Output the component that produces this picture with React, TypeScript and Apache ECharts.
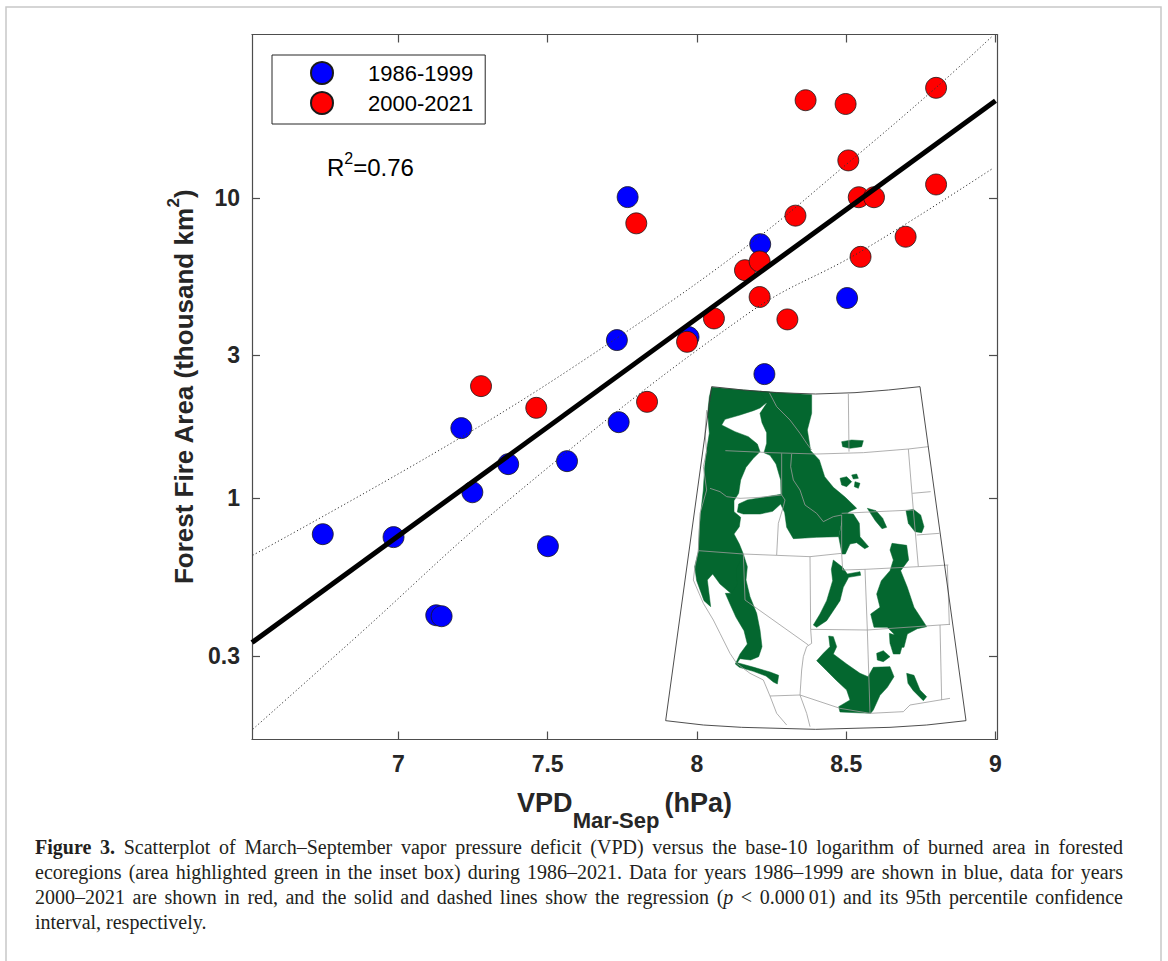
import React, { useEffect, useRef } from 'react';
import * as echarts from 'echarts';

// ---------------- data ----------------
const xTicks = [7, 7.5, 8, 8.5, 9];
const yTicks = [0.3, 1, 3, 10];
const seriesNames = ['1986-1999', '2000-2021'];

const blueVPD = [6.747, 6.984, 7.127, 7.145, 7.211, 7.248, 7.368, 7.501, 7.565, 7.732, 7.738, 7.768, 7.972, 8.212, 8.226, 8.503];
const blueArea = [0.761, 0.744, 0.409, 0.406, 1.714, 1.049, 1.301, 0.694, 1.331, 3.363, 1.794, 10.05, 3.441, 7.01, 2.592, 4.64];

const redVPD = [7.277, 7.462, 7.797, 7.833, 7.967, 8.057, 8.161, 8.21, 8.21, 8.303, 8.33, 8.364, 8.498, 8.507, 8.542, 8.548, 8.593, 8.699, 8.801, 8.801];
const redArea = [2.364, 2.002, 8.22, 2.096, 3.319, 3.97, 5.743, 6.14, 4.677, 3.94, 8.72, 21.1, 20.5, 13.31, 10.04, 6.36, 10.04, 7.42, 23.2, 11.07];

const fitVPD = [6.51, 9.0];
const fitArea = [0.332, 21.0];

const upperVPD = [6.513, 7.211, 7.732, 8.172, 8.506, 8.8, 8.99];
const upperArea = [0.648, 1.599, 3.415, 6.96, 13.05, 23.2, 34.5];

const lowerVPD = [6.513, 6.847, 7.381, 8.172, 8.546, 8.993];
const lowerArea = [0.171, 0.338, 1.01, 4.124, 6.6, 12.56];

const captionLines = [
  '*Figure* *3.* Scatterplot of March–September vapor pressure deficit (VPD) versus the base-10 logarithm of burned area in forested',
  'ecoregions (area highlighted green in the inset box) during 1986–2021. Data for years 1986–1999 are shown in blue, data for years',
  '2000–2021 are shown in red, and the solid and dashed lines show the regression (_p_ < 0.000\u200901) and its 95th percentile confidence',
  'interval, respectively.',
];

// ---------------- inset map (decorative drawing, local coords) ----------------
const mapOutline = [[155, 20], [250, 30], [350, 38], [467, 42], [585, 38], [685, 30], [780, 20], [918, 1022], [800, 1035], [690, 1042], [467, 1048], [245, 1042], [130, 1035], [17, 1022]];

const greenAreas = [
  // coast, Cascades and BC coast mountains
  [[155, 22], [250, 30], [330, 36], [322, 66], [300, 84], [280, 92], [240, 105], [195, 118], [185, 135], [225, 155], [265, 170], [292, 192], [300, 215], [280, 235], [258, 262], [242, 300], [236, 340], [222, 362], [222, 395], [242, 412], [238, 440], [222, 462], [238, 492], [250, 522], [245, 570], [258, 640], [248, 660], [215, 642], [180, 612], [158, 582], [142, 600], [152, 680], [132, 662], [110, 602], [104, 560], [115, 515], [118, 450], [122, 400], [130, 330], [134, 262], [138, 222], [148, 160], [143, 100], [148, 50]],
  // northern Rockies
  [[300, 34], [455, 44], [455, 100], [442, 150], [452, 212], [478, 240], [494, 290], [520, 322], [556, 352], [590, 385], [566, 396], [546, 420], [536, 470], [470, 472], [400, 476], [380, 442], [374, 398], [362, 372], [338, 394], [300, 402], [250, 402], [232, 396], [236, 372], [262, 360], [302, 353], [345, 346], [363, 343], [362, 300], [348, 252], [330, 226], [312, 218], [320, 190], [320, 158], [306, 128], [300, 100], [320, 70]],
  // Sierra Nevada and Transverse ranges
  [[250, 522], [262, 560], [258, 600], [270, 650], [290, 700], [300, 750], [306, 800], [296, 830], [272, 840], [240, 836], [232, 848], [282, 862], [330, 876], [356, 886], [352, 912], [340, 906], [318, 888], [280, 874], [238, 862], [226, 852], [240, 822], [262, 792], [252, 752], [228, 712], [210, 672], [196, 640], [215, 640], [232, 612], [228, 570]],
  [[546, 400], [580, 402], [598, 430], [600, 470], [626, 500], [614, 506], [590, 488], [570, 492], [556, 522], [546, 522], [536, 470], [546, 430]],
  [[622, 385], [648, 392], [668, 415], [680, 442], [666, 446], [646, 422]],
  [[520, 540], [548, 562], [562, 582], [600, 575], [602, 586], [566, 592], [550, 622], [540, 662], [520, 692], [500, 722], [470, 742], [460, 735], [480, 702], [500, 662], [518, 602], [514, 568]],
  [[696, 490], [740, 496], [746, 540], [722, 572], [742, 622], [762, 682], [800, 740], [772, 746], [742, 762], [732, 802], [712, 802], [702, 762], [682, 742], [642, 742], [632, 702], [660, 682], [650, 642], [664, 602], [690, 572], [700, 540], [690, 510]],
  [[506, 768], [520, 770], [530, 800], [520, 822], [560, 852], [600, 880], [624, 890], [640, 862], [690, 860], [702, 890], [682, 922], [660, 946], [640, 990], [632, 1000], [540, 996], [536, 980], [570, 960], [560, 930], [530, 902], [500, 872], [470, 842], [490, 820], [510, 800]],
  [[740, 880], [762, 886], [780, 930], [800, 950], [790, 962], [760, 932], [744, 910]],
  [[688, 760], [720, 770], [726, 800], [720, 822], [700, 822], [690, 790]],
  [[650, 820], [670, 812], [690, 830], [670, 845], [652, 840]],
  [[545, 185], [575, 180], [610, 182], [605, 200], [570, 205], [548, 200]],
  [[540, 295], [560, 290], [575, 305], [560, 320], [545, 315]],
  [[585, 305], [600, 310], [595, 325], [583, 320]],
  [[575, 285], [590, 282], [595, 295], [580, 297]],
  [[738, 392], [760, 388], [782, 405], [792, 440], [785, 458], [765, 455], [745, 430]],
];

const borderLines = [
  [[196, 212], [330, 218], [470, 222], [610, 218], [745, 207], [805, 200]],
  [[328, 38], [350, 80], [390, 120], [420, 160], [440, 190], [455, 210]],
  [[565, 42], [567, 215]],
  [[365, 220], [365, 345]],
  [[395, 222], [392, 260], [400, 300], [420, 330], [435, 375], [470, 400], [490, 425], [520, 410], [545, 405]],
  [[150, 325], [180, 335], [200, 350], [240, 355], [300, 352], [365, 345], [375, 360], [370, 380], [355, 430], [350, 525]],
  [[115, 512], [250, 522], [450, 530], [545, 520]],
  [[545, 405], [545, 520], [548, 570], [615, 568], [775, 560], [865, 555]],
  [[545, 400], [650, 395], [760, 390]],
  [[745, 207], [760, 390], [775, 560]],
  [[757, 340], [812, 335]],
  [[770, 465], [838, 460]],
  [[615, 568], [622, 750]],
  [[450, 530], [452, 748]],
  [[452, 748], [622, 750], [840, 735], [870, 733]],
  [[862, 556], [868, 735]],
  [[840, 735], [845, 960]],
  [[622, 750], [630, 1000]],
  [[250, 522], [255, 660], [445, 795]],
  [[452, 748], [455, 790], [440, 800], [430, 830], [425, 870], [420, 945]],
  [[330, 948], [420, 945], [540, 985], [630, 1000], [730, 995], [750, 975], [870, 955]],
  [[140, 90], [135, 160], [140, 215], [130, 260], [140, 330], [120, 400], [115, 512], [105, 560], [100, 600], [130, 670], [160, 720], [180, 760], [210, 820], [230, 850], [270, 880], [310, 900], [330, 948]],
  [[330, 948], [350, 1000], [380, 1035]],
  [[420, 945], [440, 1000], [450, 1040]],
];

const SANS = '"Liberation Sans", Arial, Helvetica, sans-serif';
const SERIF = '"Liberation Serif", "Times New Roman", serif';
const AX = '#4d4d4d';
const TXT = '#262626';

function mapPts(pts: number[][]) {
  return pts.map(([x, y]) => [660 + x / 3, 380 + y / 3]);
}

function buildCaption(): any[] {
  const ctx = document.createElement('canvas').getContext('2d') as CanvasRenderingContext2D;
  const size = 20;
  const fontFor = (k: string) => `${k === 'i' ? 'italic ' : ''}${k === 'b' ? 'bold ' : ''}${size}px "Liberation Serif"`;
  const measure = (t: string, k: string) => {
    ctx.font = fontFor(k);
    return ctx.measureText(t).width;
  };
  const x0 = 35;
  const x1 = 1123;
  const ys = [847, 872, 897, 921.5];
  const out: any[] = [];
  captionLines.forEach((line, li) => {
    const words = line.split(' ').map((w) => {
      const parts = w.split(/(\*[^*]+\*|_[^_]+_)/).filter((p) => p.length > 0);
      return parts.map((p) => {
        if (p.startsWith('*')) return { t: p.slice(1, -1), k: 'b' };
        if (p.startsWith('_')) return { t: p.slice(1, -1), k: 'i' };
        return { t: p, k: 'n' };
      });
    });
    const widths = words.map((segs) => segs.reduce((s, g) => s + measure(g.t, g.k), 0));
    const total = widths.reduce((a, b) => a + b, 0);
    const isLast = li === captionLines.length - 1;
    const gap = isLast ? measure(' ', 'n') : (x1 - x0 - total) / (words.length - 1);
    let x = x0;
    words.forEach((segs, wi) => {
      const rich: any = {
        n: { fontSize: size, fontFamily: SERIF, fill: '#231f20' },
        b: { fontSize: size, fontFamily: SERIF, fontWeight: 'bold', fill: '#231f20' },
        i: { fontSize: size, fontFamily: SERIF, fontStyle: 'italic', fill: '#231f20' },
      };
      const text = segs.length === 1 ? segs[0].t : segs.map((g) => `{${g.k}|${g.t}}`).join('');
      const single = segs.length === 1 ? segs[0].k : 'n';
      out.push({
        type: 'text',
        x,
        y: ys[li],
        style: {
          text,
          rich: segs.length === 1 ? undefined : rich,
          fontSize: size,
          fontFamily: SERIF,
          fontWeight: single === 'b' ? 'bold' : 'normal',
          fontStyle: single === 'i' ? 'italic' : 'normal',
          fill: '#231f20',
          align: 'left',
          textAlign: 'left',
          verticalAlign: 'middle',
          textVerticalAlign: 'middle',
        },
      });
      x += widths[wi] + gap;
    });
  });
  return out;
}

function buildMap(): any[] {
  const els: any[] = [];
  els.push({ type: 'polygon', shape: { points: mapPts(mapOutline) }, style: { fill: '#ffffff', stroke: 'none' }, z: 5 });
  greenAreas.forEach((g) => {
    els.push({ type: 'polygon', shape: { points: mapPts(g) }, style: { fill: '#04672f', stroke: '#04672f', lineWidth: 0.5 }, z: 6 });
  });
  borderLines.forEach((l) => {
    els.push({ type: 'polyline', shape: { points: mapPts(l) }, style: { fill: null, stroke: '#9c9c9c', lineWidth: 0.8 }, z: 7 });
  });
  els.push({ type: 'polygon', shape: { points: mapPts(mapOutline) }, style: { fill: null, stroke: '#3a3a3a', lineWidth: 0.9 }, z: 8 });
  return els;
}

function tickFmt(v: any) {
  return String(parseFloat(Number(v).toPrecision(3)));
}

function buildOption(): any {
  const blueData = blueVPD.map((x, i) => [x, blueArea[i]]);
  const redData = redVPD.map((x, i) => [x, redArea[i]]);
  const fitData = fitVPD.map((x, i) => [x, fitArea[i]]);
  const upperData = upperVPD.map((x, i) => [x, upperArea[i]]);
  const lowerData = lowerVPD.map((x, i) => [x, lowerArea[i]]);

  const axisLine = { show: true, onZero: false, lineStyle: { color: AX, width: 1.2 } };
  const tickStyle = { color: AX, width: 1.2 };
  const xMin = 6.51;
  const xMax = 9.005;
  const yMin = 0.158;
  const yMax = 34.9;

  return {
    animation: false,
    backgroundColor: '#ffffff',
    grid: { left: 252, top: 34.5, width: 745, height: 705, show: false },
    legend: {
      data: seriesNames,
      orient: 'vertical',
      left: 272,
      top: 55,
      padding: [6, 12, 9, 38],
      itemWidth: 22,
      itemHeight: 22,
      itemGap: 6,
      icon: 'circle',
      selectedMode: false,
      backgroundColor: '#ffffff',
      borderColor: '#262626',
      borderWidth: 1,
      borderRadius: 0,
      textStyle: { fontSize: 22, fontFamily: SANS, color: '#000', padding: [0, 0, 0, 30] },
    },
    xAxis: [
      {
        type: 'value',
        min: xMin,
        max: xMax,
        position: 'bottom',
        axisLine,
        axisTick: { show: true, inside: true, length: 8, customValues: xTicks, lineStyle: tickStyle },
        axisLabel: { show: true, customValues: xTicks, fontSize: 23, fontWeight: 'bold', fontFamily: SANS, color: TXT, margin: 13, formatter: tickFmt },
        splitLine: { show: false },
        name: '{a|VPD}{b|Mar-Sep}{c|(hPa)}',
        nameLocation: 'middle',
        nameGap: 50,
        nameTextStyle: {
          color: TXT,
          fontFamily: SANS,
          fontWeight: 'bold',
          fontSize: 27,
          rich: {
            a: { fontSize: 27, fontWeight: 'bold', fontFamily: SANS, color: TXT, verticalAlign: 'top' },
            b: { fontSize: 22, fontWeight: 'bold', fontFamily: SANS, color: TXT, verticalAlign: 'top', padding: [20, 0, 0, 0] },
            c: { fontSize: 27, fontWeight: 'bold', fontFamily: SANS, color: TXT, verticalAlign: 'top', padding: [0, 0, 0, 5] },
          },
        },
      },
      {
        type: 'value',
        min: xMin,
        max: xMax,
        position: 'top',
        axisLine,
        axisTick: { show: true, inside: true, length: 8, customValues: xTicks, lineStyle: tickStyle },
        axisLabel: { show: false },
        splitLine: { show: false },
      },
    ],
    yAxis: [
      {
        type: 'log',
        logBase: 10,
        min: yMin,
        max: yMax,
        position: 'left',
        axisLine,
        axisTick: { show: true, inside: true, length: 8, customValues: yTicks, lineStyle: tickStyle },
        minorTick: { show: false },
        axisLabel: { show: true, customValues: yTicks, fontSize: 23, fontWeight: 'bold', fontFamily: SANS, color: TXT, margin: 12, formatter: tickFmt },
        splitLine: { show: false },
        name: '{a|Forest Fire Area (thousand km}{s|2}{a|)}',
        nameLocation: 'middle',
        nameGap: 52,
        nameTextStyle: {
          color: TXT,
          fontFamily: SANS,
          fontWeight: 'bold',
          fontSize: 26,
          rich: {
            a: { fontSize: 26, fontWeight: 'bold', fontFamily: SANS, color: TXT, verticalAlign: 'top', padding: [6, 0, 0, 0] },
            s: { fontSize: 17, fontWeight: 'bold', fontFamily: SANS, color: TXT, verticalAlign: 'top' },
          },
        },
      },
      {
        type: 'log',
        logBase: 10,
        min: yMin,
        max: yMax,
        position: 'right',
        axisLine,
        axisTick: { show: true, inside: true, length: 8, customValues: yTicks, lineStyle: tickStyle },
        minorTick: { show: false },
        axisLabel: { show: false },
        splitLine: { show: false },
      },
    ],
    series: [
      {
        name: seriesNames[0],
        type: 'scatter',
        data: blueData,
        symbol: 'circle',
        symbolSize: 21,
        itemStyle: { color: '#0000ff', borderColor: '#1a1a1a', borderWidth: 0.8, opacity: 1 },
        z: 2,
      },
      {
        name: seriesNames[1],
        type: 'scatter',
        data: redData,
        symbol: 'circle',
        symbolSize: 21,
        itemStyle: { color: '#ff0000', borderColor: '#1a1a1a', borderWidth: 0.8, opacity: 1 },
        z: 2,
      },
      {
        name: 'fit',
        type: 'line',
        data: fitData,
        symbol: 'none',
        lineStyle: { color: '#000', width: 5 },
        z: 4,
        silent: true,
      },
      {
        name: 'upper',
        type: 'line',
        data: upperData,
        symbol: 'none',
        smooth: 0.4,
        lineStyle: { color: '#333', width: 1, type: [1.2, 2.4] },
        z: 3,
        silent: true,
      },
      {
        name: 'lower',
        type: 'line',
        data: lowerData,
        symbol: 'none',
        smooth: 0.4,
        lineStyle: { color: '#333', width: 1, type: [1.2, 2.4] },
        z: 3,
        silent: true,
      },
    ],
    graphic: {
      elements: [
        {
          type: 'rect',
          shape: { x: 6, y: 7, width: 1155, height: 1000 },
          style: { fill: null, stroke: '#c8c8c8', lineWidth: 1.5 },
          z: -10,
          silent: true,
        },
        {
          type: 'text',
          x: 327,
          y: 150,
          style: {
            text: '{a|R}{s|2}{a|=0.76}',
            rich: {
              a: { fontSize: 24, fontFamily: SANS, fill: '#000', verticalAlign: 'top', padding: [5, 0, 0, 0] },
              s: { fontSize: 16, fontFamily: SANS, fill: '#000', verticalAlign: 'top' },
            },
            fill: '#000',
            fontSize: 24,
            fontFamily: SANS,
            verticalAlign: 'top',
            textVerticalAlign: 'top',
          },
          z: 10,
        },
        ...buildMap(),
        ...buildCaption(),
      ],
    },
  };
}

export default function App() {
  const ref = useRef<HTMLDivElement>(null);
  useEffect(() => {
    document.body.style.margin = '0';
    const chart = echarts.init(ref.current as HTMLDivElement, null, { renderer: 'svg' });
    chart.setOption(buildOption());
    return () => chart.dispose();
  }, []);
  return <div ref={ref} style={{ width: 1168, height: 961 }} />;
}
